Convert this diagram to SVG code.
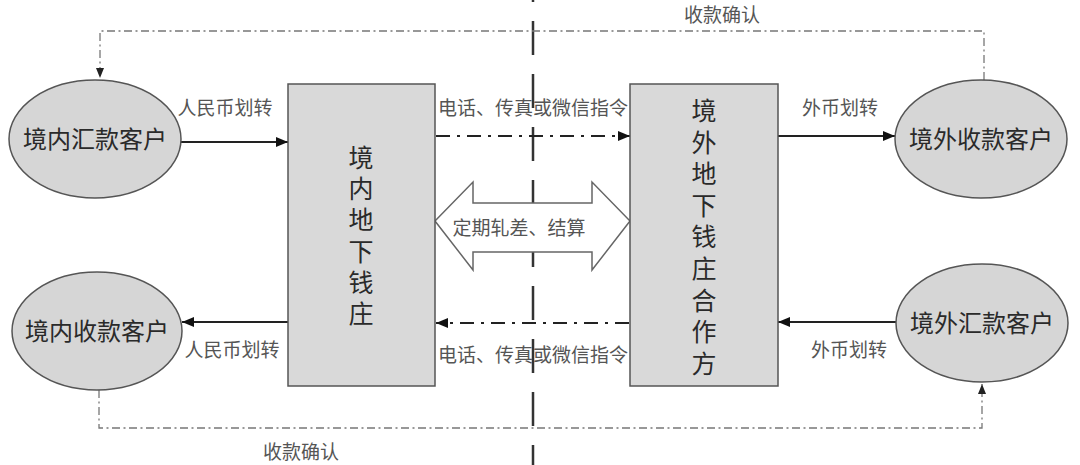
<svg xmlns="http://www.w3.org/2000/svg" width="1080" height="465" viewBox="0 0 1080 465">
<defs>
<style>
.ell{fill:#d6d6d6;stroke:#555;stroke-width:1.5}
.box{fill:#d9d9d9;stroke:#555;stroke-width:1.5}
.et{font-family:"Noto Sans CJK SC","Noto Sans",sans-serif;font-size:24px;fill:#2a2a2a;text-anchor:middle}
.bt{font-family:"Noto Sans CJK SC","Noto Sans",sans-serif;font-size:25px;fill:#2a2a2a;writing-mode:vertical-rl;text-orientation:upright}
.lb{font-family:"Noto Sans CJK SC","Noto Sans",sans-serif;font-size:19px;fill:#555;text-anchor:middle}
.solid{fill:none;stroke:#222;stroke-width:2}
.dd{fill:none;stroke:#222;stroke-width:2.2;stroke-dasharray:14 7 3 7}
.fb{fill:none;stroke:#777;stroke-width:1.3;stroke-dasharray:8 3.5 2 3.5}
.axis{fill:none;stroke:#333;stroke-width:2.5;stroke-dasharray:34 19;stroke-dashoffset:32}
</style>
<marker id="ah" viewBox="0 0 12 10" refX="12" refY="5" markerWidth="12" markerHeight="10" markerUnits="userSpaceOnUse" orient="auto">
<path d="M0,0 L12,5 L0,10 Z" fill="#111"/>
</marker>
<marker id="ahs" viewBox="0 0 10 8" refX="10" refY="4" markerWidth="10" markerHeight="8" markerUnits="userSpaceOnUse" orient="auto">
<path d="M0,0 L10,4 L0,8 Z" fill="#222"/>
</marker>
</defs>
<rect width="1080" height="465" fill="#fff"/>

<g id="axis">
<line class="axis" x1="533" y1="0" x2="533" y2="465"/>
</g>

<g id="connectors">
<line class="solid" x1="181" y1="142" x2="288" y2="142" marker-end="url(#ah)"/>
<line class="solid" x1="778" y1="136" x2="895" y2="136" marker-end="url(#ah)"/>
<line class="solid" x1="288" y1="322" x2="182" y2="322" marker-end="url(#ah)"/>
<line class="solid" x1="896" y1="322" x2="778" y2="322" marker-end="url(#ah)"/>
<line class="dd" x1="436" y1="136" x2="630" y2="136" marker-end="url(#ah)"/>
<line class="dd" x1="629" y1="323" x2="436" y2="323" marker-end="url(#ah)"/>
<path class="fb" d="M984,80 V31 H100 V78" marker-end="url(#ahs)"/>
<path class="fb" d="M99,390 V428 H982 V384" marker-end="url(#ahs)"/>
<polygon points="435,221 473,182 473,203 592,203 592,182 630,221 592,270 592,252 473,252 473,270" fill="#fff" stroke="#666" stroke-width="1.5"/>
<text class="lb" x="225" y="115">人民币划转</text>
<text class="lb" x="533" y="115">电话、传真或微信指令</text>
<text class="lb" x="840" y="115">外币划转</text>
<text class="lb" x="722" y="22">收款确认</text>
<text class="lb" x="232" y="357">人民币划转</text>
<text class="lb" x="533" y="362">电话、传真或微信指令</text>
<text class="lb" x="849" y="357">外币划转</text>
<text class="lb" x="301" y="459">收款确认</text>
<text class="lb" x="519" y="235">定期轧差、结算</text>
</g>

<g id="n-domestic-remitter">
<ellipse class="ell" cx="95" cy="139" rx="86" ry="59"/>
<text class="et" x="95" y="148">境内汇款客户</text>
</g>
<g id="n-domestic-payee">
<ellipse class="ell" cx="97" cy="331" rx="85" ry="59"/>
<text class="et" x="97" y="340">境内收款客户</text>
</g>
<g id="n-foreign-payee">
<ellipse class="ell" cx="981" cy="139" rx="86" ry="59"/>
<text class="et" x="981" y="148">境外收款客户</text>
</g>
<g id="n-foreign-remitter">
<ellipse class="ell" cx="982" cy="323" rx="86" ry="59"/>
<text class="et" x="982" y="332">境外汇款客户</text>
</g>

<g id="n-domestic-bank">
<rect class="box" x="288" y="84" width="147" height="302"/>
<text class="bt" x="361" y="145" letter-spacing="6.2">境内地下钱庄</text>
</g>
<g id="n-foreign-bank">
<rect class="box" x="630" y="84" width="148" height="302"/>
<text class="bt" x="704" y="98" letter-spacing="6.6">境外地下钱庄合作方</text>
</g>
</svg>
